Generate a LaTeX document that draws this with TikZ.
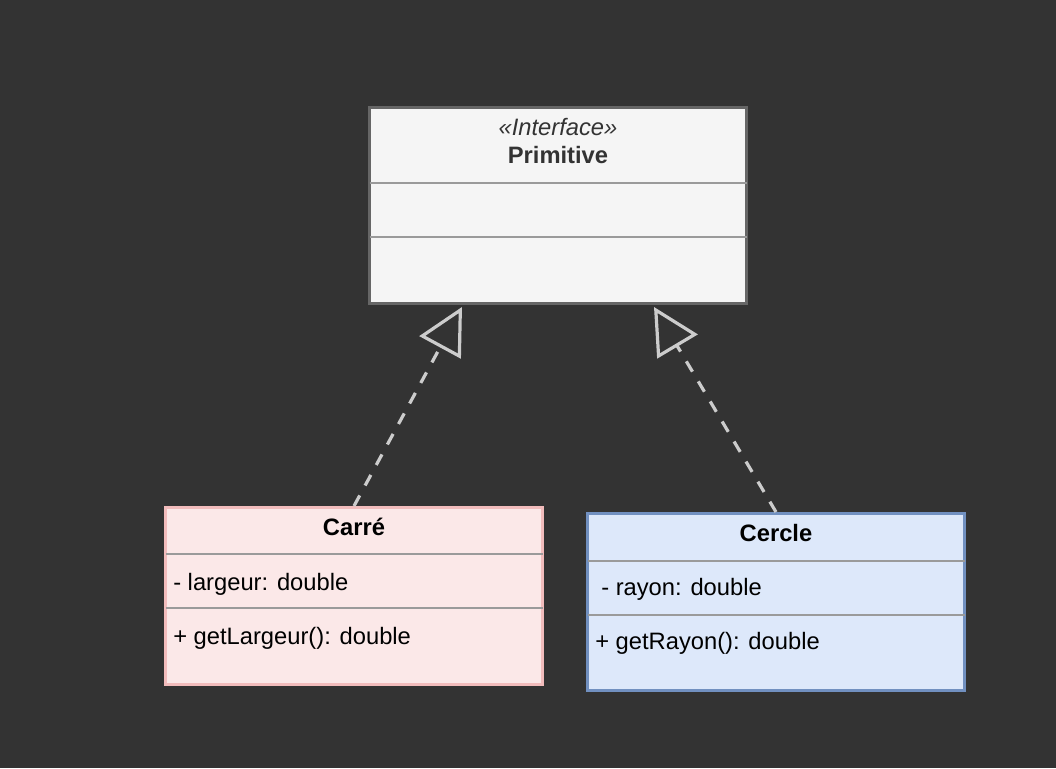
\documentclass[tikz,border=0pt]{standalone}
\usepackage{fontspec}
\setmainfont{Liberation Sans}
\usetikzlibrary{arrows.meta,calc}
\definecolor{bg}{HTML}{333333}
\definecolor{ifill}{HTML}{F5F5F5}
\definecolor{idraw}{HTML}{666666}
\definecolor{divc}{HTML}{9A9A9A}
\definecolor{pfill}{HTML}{FBE8E8}
\definecolor{pdraw}{HTML}{F2BCBC}
\definecolor{bfill}{HTML}{DDE8FA}
\definecolor{bdraw}{HTML}{7190C0}
\definecolor{arrc}{HTML}{CCCCCC}
\definecolor{txtgray}{HTML}{333333}
\tikzset{
  classbox/.style={draw, line width=2.25pt, minimum width=282.75pt, inner sep=0pt},
  divider/.style={draw=divc, line width=1.1pt},
  lbl/.style={font=\fontsize{17.8pt}{21pt}\selectfont, inner sep=0pt},
  lblb/.style={font=\fontsize{17.8pt}{21pt}\selectfont\bfseries, inner sep=0pt},
  impl/.style={draw=arrc, line width=2.4pt, dash pattern=on 9pt off 8.5pt,
    -{Triangle[open, length=34.5pt, width=35pt]}}
}
\begin{document}
\begin{tikzpicture}[x=0.75pt,y=-0.75pt]
\fill[bg] (0,0) rectangle (1056,768);
\useasboundingbox (0,0) rectangle (1056,768);

% Interface
\node[classbox, fill=ifill, draw=idraw, minimum height=147pt] (prim) at (558,205.5) {};
\draw[divider] (369.5,183) -- (746.5,183);
\draw[divider] (369.5,237) -- (746.5,237);
\node[lbl, anchor=base, text=txtgray] (stereo) at (558,135) {\itshape «Interface»};
\node[lblb, anchor=base, text=txtgray] (primname) at (558,163) {Primitive};

% Carre
\node[classbox, fill=pfill, draw=pdraw, minimum height=132.75pt] (carre) at (354,596) {};
\draw[divider] (165.5,554) -- (542.5,554);
\draw[divider] (165.5,608) -- (542.5,608);
\node[lblb, anchor=base] (carrename) at (354,535) {Carré};
\node[lbl, anchor=base west] (carreattr) at (173,590) {- largeur: double};
\node[lbl, anchor=base west] (carreop) at (173,644) {+ getLargeur(): double};

% Cercle
\node[classbox, fill=bfill, draw=bdraw, minimum height=132.75pt] (cercle) at (776,602) {};
\draw[divider] (587.5,561) -- (964.5,561);
\draw[divider] (587.5,615) -- (964.5,615);
\node[lblb, anchor=base] (cerclename) at (776,541) {Cercle};
\node[lbl, anchor=base west] (cercleattr) at (601,595) {- rayon: double};
\node[lbl, anchor=base west] (cercleop) at (595,649) {+ getRayon(): double};

% Realization arrows
\coordinate (t1) at ($(prim.south)+(-96,2)$);
\coordinate (t2) at ($(prim.south)+(96,2)$);
\draw[impl] (carre.north) -- (t1);
\draw[impl] (cercle.north) -- (t2);
\end{tikzpicture}
\end{document}
